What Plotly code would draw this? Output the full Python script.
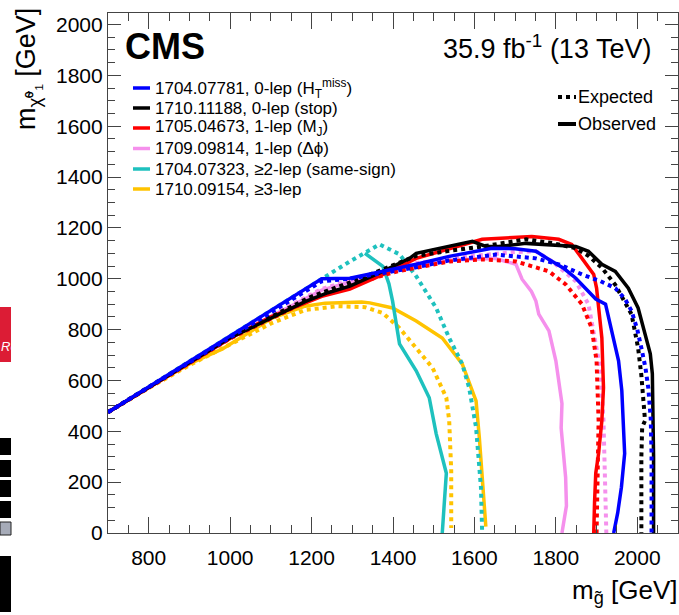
import plotly.graph_objects as go

# ---------------- data ----------------
legend_labels = [
    "1704.07781, 0-lep (H<sub>T</sub><sup>miss</sup>)",
    "1710.11188, 0-lep (stop)",
    "1705.04673, 1-lep (M<sub>J</sub>)",
    "1709.09814, 1-lep (Δϕ)",
    "1704.07323, ≥2-lep (same-sign)",
    "1710.09154, ≥3-lep",
]

htmiss_obs_x = [700, 1225, 1294, 1457, 1538, 1580, 1643, 1700, 1751, 1783, 1820, 1849, 1875, 1898, 1922, 1937, 1954, 1962, 1966, 1969, 1961, 1952, 1942]
htmiss_obs_y = [475, 1000, 1002, 1057, 1088, 1100, 1120, 1118, 1108, 1076, 1040, 1002, 960, 920, 900, 795, 677, 560, 442, 313, 180, 80, 0]
htmiss_exp_x = [700, 1225, 1294, 1457, 1538, 1653, 1751, 1810, 1864, 1910, 1946, 1970, 1986, 2000, 2010, 2020, 2027, 2033, 2035, 2035]
htmiss_exp_y = [475, 990, 1000, 1045, 1072, 1095, 1080, 1055, 1017, 990, 963, 920, 873, 800, 728, 650, 571, 450, 313, 0]

stop_obs_x = [700, 900, 1000, 1062, 1120, 1184, 1240, 1294, 1375, 1441, 1457, 1538, 1595, 1628, 1660, 1727, 1783, 1849, 1880, 1913, 1946, 1978, 2002, 2010, 2032, 2037, 2040, 2040]
stop_obs_y = [475, 672, 768, 815, 860, 910, 945, 971, 1029, 1080, 1100, 1127, 1147, 1127, 1127, 1139, 1135, 1127, 1108, 1057, 1029, 963, 885, 834, 705, 626, 300, 0]
stop_exp_x = [700, 1000, 1200, 1294, 1380, 1457, 1540, 1620, 1727, 1791, 1849, 1880, 1913, 1946, 1986, 2002, 2010, 2015, 2019, 2012, 2010, 2010]
stop_exp_y = [475, 770, 930, 985, 1040, 1090, 1110, 1127, 1155, 1140, 1120, 1090, 1043, 976, 860, 728, 620, 532, 442, 415, 300, 0]

mj_obs_x = [700, 1000, 1100, 1225, 1294, 1380, 1457, 1538, 1619, 1741, 1807, 1839, 1864, 1893, 1900, 1907, 1913, 1917, 1913, 1905, 1898, 1895, 1893]
mj_obs_y = [475, 765, 850, 931, 959, 1020, 1080, 1119, 1155, 1166, 1155, 1135, 1080, 1017, 963, 870, 767, 571, 442, 313, 235, 120, 0]
mj_exp_x = [700, 1000, 1225, 1294, 1400, 1538, 1619, 1702, 1783, 1824, 1864, 1888, 1900, 1905, 1903, 1900, 1900]
mj_exp_y = [475, 765, 940, 975, 1025, 1068, 1076, 1068, 1029, 978, 900, 806, 677, 442, 300, 150, 0]

dphi_obs_x = [700, 1000, 1225, 1400, 1550, 1650, 1702, 1717, 1740, 1751, 1758, 1783, 1800, 1815, 1813, 1824, 1826, 1815]
dphi_obs_y = [475, 768, 955, 1035, 1075, 1080, 1057, 998, 950, 912, 861, 795, 677, 509, 413, 219, 107, 0]
dphi_exp_x = [700, 1000, 1225, 1300, 1450, 1600, 1700, 1751, 1791, 1849, 1880, 1893, 1910, 1917, 1922, 1924]
dphi_exp_y = [475, 770, 960, 995, 1060, 1090, 1105, 1108, 1068, 990, 900, 790, 638, 442, 180, 0]

ss_obs_x = [1331, 1375, 1390, 1399, 1416, 1457, 1489, 1506, 1531, 1526, 1521]
ss_obs_y = [1100, 1049, 980, 912, 744, 638, 532, 391, 235, 100, 0]
ss_exp_x = [700, 1233, 1294, 1367, 1416, 1457, 1506, 1538, 1570, 1587, 1604, 1616, 1619]
ss_exp_y = [475, 1008, 1068, 1135, 1096, 1010, 885, 767, 665, 571, 415, 180, 0]

tri_obs_x = [700, 800, 900, 981, 1103, 1184, 1233, 1323, 1343, 1399, 1457, 1521, 1570, 1604, 1612, 1619, 1628]
tri_obs_y = [475, 572, 665, 724, 845, 892, 904, 908, 905, 885, 834, 767, 665, 520, 376, 235, 25]
tri_exp_x = [700, 800, 900, 1000, 1103, 1184, 1264, 1331, 1375, 1416, 1457, 1497, 1531, 1538, 1543, 1543]
tri_exp_y = [475, 570, 660, 740, 826, 877, 892, 888, 865, 806, 728, 650, 532, 442, 247, 20]

colors = ["#0000FF", "#000000", "#FF0000", "#F590EC", "#1EC1BE", "#FFC300"]

series = [
    (htmiss_obs_x, htmiss_obs_y, htmiss_exp_x, htmiss_exp_y),
    (stop_obs_x, stop_obs_y, stop_exp_x, stop_exp_y),
    (mj_obs_x, mj_obs_y, mj_exp_x, mj_exp_y),
    (dphi_obs_x, dphi_obs_y, dphi_exp_x, dphi_exp_y),
    (ss_obs_x, ss_obs_y, ss_exp_x, ss_exp_y),
    (tri_obs_x, tri_obs_y, tri_exp_x, tri_exp_y),
]

# ---------------- figure ----------------
W, H = 679, 615
ML, MR, MT, MB = 108, 1, 13, 82
PW, PH = W - ML - MR, H - MT - MB


def px(x):
    return (x - ML) / PW


def py(y):
    return (H - MB - y) / PH


fig = go.Figure()
LW = 3.5
# draw in reverse order so that the first entry sits on top
for i in reversed(range(len(series))):
    ox, oy, ex, ey = series[i]
    fig.add_trace(go.Scatter(x=ex, y=ey, mode="lines", showlegend=False,
                             line=dict(color=colors[i], width=LW + 0.5, dash="dot")))
    fig.add_trace(go.Scatter(x=ox, y=oy, mode="lines", showlegend=False,
                             line=dict(color=colors[i], width=LW)))

FONT = "Liberation Sans, Arial, Helvetica, sans-serif"
shapes = []
annotations = []

# legend entries
row_y = [88, 108, 128, 148.5, 169, 189]
for i, lab in enumerate(legend_labels):
    shapes.append(dict(type="line", xref="paper", yref="paper",
                       x0=px(133), x1=px(150), y0=py(row_y[i]), y1=py(row_y[i]),
                       line=dict(color=colors[i], width=LW)))
    annotations.append(dict(text=lab, xref="paper", yref="paper", x=px(153), y=py(row_y[i]),
                            xanchor="left", yanchor="middle", showarrow=False,
                            font=dict(family=FONT, size=17, color="black")))

# expected / observed
shapes.append(dict(type="line", xref="paper", yref="paper", x0=px(558), x1=px(576),
                   y0=py(97), y1=py(97), line=dict(color="black", width=4, dash="dot")))
shapes.append(dict(type="line", xref="paper", yref="paper", x0=px(558), x1=px(576),
                   y0=py(124), y1=py(124), line=dict(color="black", width=4)))
annotations.append(dict(text="Expected", xref="paper", yref="paper", x=px(576), y=py(97),
                        xanchor="left", yanchor="middle", showarrow=False,
                        font=dict(family=FONT, size=18, color="black")))
annotations.append(dict(text="Observed", xref="paper", yref="paper", x=px(576), y=py(124),
                        xanchor="left", yanchor="middle", showarrow=False,
                        font=dict(family=FONT, size=18, color="black")))

# CMS label and luminosity
annotations.append(dict(text="<b>CMS</b>", xref="paper", yref="paper", x=px(123), y=py(47),
                        xanchor="left", yanchor="middle", showarrow=False,
                        font=dict(family=FONT, size=36, color="black")))
annotations.append(dict(text="35.9 fb<sup>-1</sup> (13 TeV)", xref="paper", yref="paper",
                        x=px(653), y=py(47), xanchor="right", yanchor="middle", showarrow=False,
                        font=dict(family=FONT, size=27, color="black")))

# axis titles
annotations.append(dict(text="m<sub>g̃</sub> [GeV]", xref="paper", yref="paper", x=px(680), y=py(591),
                        xanchor="right", yanchor="middle", showarrow=False,
                        font=dict(family=FONT, size=26, color="black")))
annotations.append(dict(text="m<sub>χ̃⁰₁</sub> [GeV]", xref="paper", yref="paper", x=px(28), y=py(6),
                        xanchor="center", yanchor="top", textangle=-90, showarrow=False,
                        font=dict(family=FONT, size=27, color="black")))

# page fragments at the left edge of the screenshot
shapes.append(dict(type="rect", xref="paper", yref="paper", x0=px(0), x1=px(11), y0=py(307), y1=py(362),
                   fillcolor="#DC1C35", line=dict(width=0)))
annotations.append(dict(text="<i>Re</i>", xref="paper", yref="paper", x=px(-1), y=py(347),
                        xanchor="left", yanchor="middle", showarrow=False,
                        font=dict(family=FONT, size=13, color="white")))
for (a, b) in [(438, 455), (460, 477), (480, 497), (501, 518), (556, 612)]:
    shapes.append(dict(type="rect", xref="paper", yref="paper", x0=px(0), x1=px(11), y0=py(a), y1=py(b),
                       fillcolor="black", line=dict(width=0)))
shapes.append(dict(type="rect", xref="paper", yref="paper", x0=px(0), x1=px(11), y0=py(522), y1=py(535),
                   fillcolor="#A6ABB8", line=dict(color="#222", width=1)))

axis_common = dict(showline=True, linecolor="#444", linewidth=1.2, mirror="ticks",
                   ticks="inside", tickcolor="#444", tickwidth=1.2, showgrid=False, zeroline=False,
                   tickfont=dict(family=FONT, size=21, color="black"))

fig.update_layout(
    width=W, height=H,
    margin=dict(l=ML, r=MR, t=MT, b=MB),
    paper_bgcolor="white", plot_bgcolor="white",
    showlegend=False,
    xaxis=dict(range=[700, 2100], tick0=0, dtick=200, ticklen=16, ticklabelstandoff=6,
               minor=dict(dtick=50, ticklen=8, ticks="inside", tickcolor="#444", tickwidth=1.2),
               **axis_common),
    yaxis=dict(range=[0, 2045], tick0=0, dtick=200, ticklen=13,
               minor=dict(dtick=50, ticklen=7, ticks="inside", tickcolor="#444", tickwidth=1.2),
               **axis_common),
    shapes=shapes,
    annotations=annotations,
)

fig.write_html(
    "out.html",
    config={"displayModeBar": False},
    post_script="document.body.style.margin='0';document.body.style.padding='0';"
                "document.documentElement.style.overflow='hidden';",
)
